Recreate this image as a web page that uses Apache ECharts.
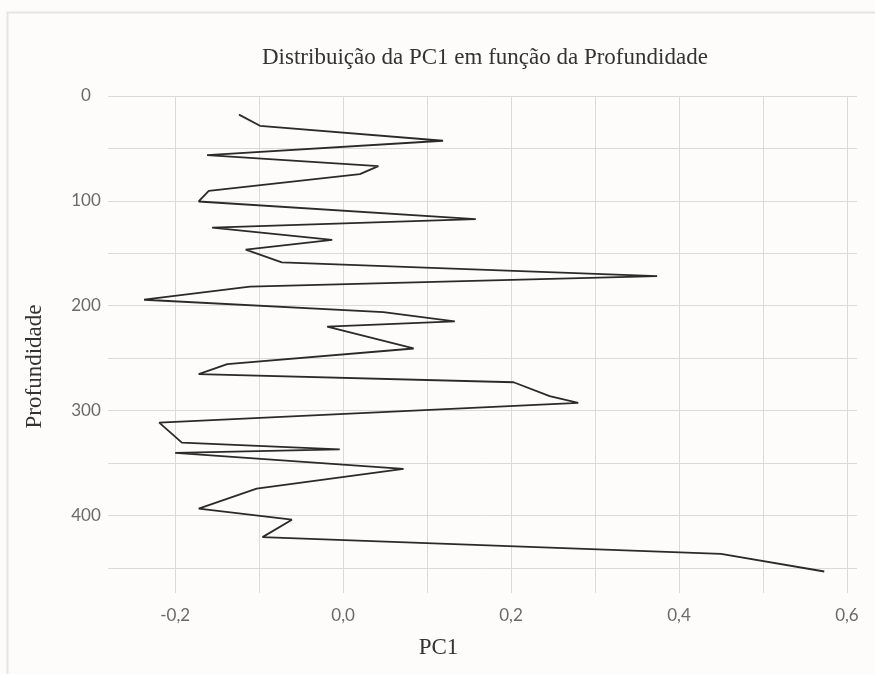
<!DOCTYPE html>
<html>
<head>
<meta charset="utf-8" />
<style>
  html, body { margin: 0; padding: 0; background: #fdfcfb; }
  #main { width: 875px; height: 674px; }
</style>
</head>
<body>
<div id="main"></div>
<script src="https://cdn.jsdelivr.net/npm/echarts@6/dist/echarts.min.js"></script>
<script>
// profundidade (eixo vertical) e PC1 (eixo horizontal)
var depth = [17.8, 28.4, 42.7, 56.4, 66.9, 74.5, 90.5, 100.6, 117.5, 125.5,
  137.3, 146.5, 158.6, 171.7, 181.8, 194.3, 206.1, 215, 220, 240.8,
  255.7, 265.3, 273, 286.3, 292.7, 311.5, 330.6, 337, 340.4, 355.7,
  374.5, 393.6, 404.1, 420.7, 436.6, 453.5];
var pc1 = [-0.124, -0.099, 0.119, -0.162, 0.042, 0.020, -0.160, -0.172, 0.158, -0.156,
  -0.013, -0.116, -0.073, 0.374, -0.111, -0.237, 0.048, 0.133, -0.019, 0.084,
  -0.138, -0.172, 0.203, 0.246, 0.280, -0.219, -0.192, -0.004, -0.200, 0.072,
  -0.103, -0.172, -0.061, -0.096, 0.450, 0.573];
var xTickLabels = [-0.2, 0.0, 0.2, 0.4, 0.6];
var yTickLabels = [0, 100, 200, 300, 400];

var points = depth.map(function (d, i) { return [pc1[i], d]; });

var chart = echarts.init(document.getElementById('main'));
var gridColor = '#dadada';
var labelColor = '#6a6a6a';
var serif = { fontFamily: 'Liberation Serif', fontSize: 23, color: '#333' };

chart.setOption({
  backgroundColor: '#fdfcfb',
  animation: false,
  graphic: [{
    type: 'rect',
    shape: { x: 7.5, y: 12.5, width: 900, height: 700 },
    style: { fill: 'none', stroke: '#e4e4e4', lineWidth: 2 }
  }],
  title: {
    text: 'Distribuição da PC1 em função da Profundidade',
    left: 257,
    top: 41,
    textStyle: { fontFamily: 'Liberation Serif', fontWeight: 'normal', fontSize: 23, color: '#333' }
  },
  grid: { left: 108, right: 18, top: 96, bottom: 81 },
  xAxis: {
    type: 'value',
    min: -0.28,
    max: 0.612,
    splitNumber: 9,
    name: 'PC1',
    nameLocation: 'middle',
    nameGap: 43,
    nameTextStyle: Object.assign({ padding: [0, 88, 0, 0] }, serif),
    axisLine: { show: false },
    axisTick: { show: false },
    splitLine: { showMinLine: false, showMaxLine: false, lineStyle: { color: gridColor, width: 1 } },
    axisLabel: {
      showMinLabel: false,
      showMaxLabel: false,
      margin: 14,
      color: labelColor,
      fontFamily: 'Lato',
      fontSize: 17,
      formatter: function (v) {
        for (var i = 0; i < xTickLabels.length; i++) {
          if (Math.abs(v - xTickLabels[i]) < 1e-6) return xTickLabels[i].toFixed(1).replace('.', ',');
        }
        return '';
      }
    }
  },
  yAxis: {
    type: 'value',
    inverse: true,
    min: 0,
    max: 474,
    interval: 50,
    name: 'Profundidade',
    nameLocation: 'middle',
    nameRotate: 90,
    nameGap: 62,
    nameTextStyle: Object.assign({ padding: [0, 44, 0, 0] }, serif),
    axisLine: { show: false },
    axisTick: { show: false },
    splitLine: { showMaxLine: false, lineStyle: { color: gridColor, width: 1 } },
    axisLabel: {
      showMaxLabel: false,
      margin: 22,
      align: 'center',
      color: labelColor,
      fontFamily: 'Lato',
      fontSize: 17,
      formatter: function (v) {
        return yTickLabels.indexOf(v) >= 0 ? String(v) : '';
      }
    }
  },
  series: [{
    type: 'line',
    data: points,
    showSymbol: false,
    symbol: 'none',
    lineStyle: { color: '#2a2a2a', width: 1.8 }
  }]
});
</script>
</body>
</html>
